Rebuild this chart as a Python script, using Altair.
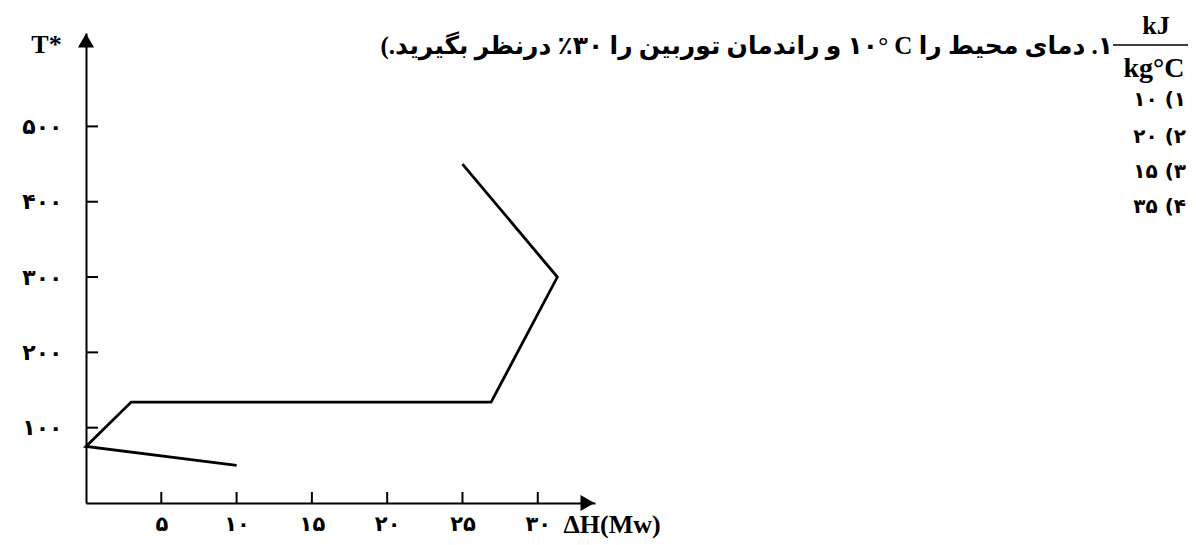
import altair as alt
import pandas as pd

# ---- data ----
dh_values = [10, 0, 3, 26.9, 31.3, 25]          # ΔH (MW)
t_values = [50, 75, 134, 134, 300, 450]          # T*
point_order = [0, 1, 2, 3, 4, 5]

x_tick_values = [5, 10, 15, 20, 25, 30]
y_tick_values = [100, 200, 300, 400, 500]
persian_digits = "۰۱۲۳۴۵۶۷۸۹"

x_title = "ΔH(Mw)"
y_title = "T*"
LRE, RLE, PDF = "\u202a", "\u202b", "\u202c"
question = "۱. دمای محیط را " + LRE + "۱۰° C" + PDF + " و راندمان توربین را ۳۰٪ درنظر بگیرید.)"
frac_num = "kJ"
frac_den = "kg°C"
options = ["۱)   ۱۰", "۲)   ۲۰", "۳)   ۱۵", "۴)   ۳۵"]

X_MAX = 33.8
Y_MAX = 624

FA_FONT = "DejaVu Sans"
SERIF = "Liberation Serif"
MIX = "Liberation Serif, DejaVu Sans"

# label expression turning latin digits into Persian digits
label_expr = "datum.label"
for i, d in enumerate(persian_digits):
    label_expr = f"replace({label_expr}, regexp('{i}', 'g'), '{d}')"

xs = alt.Scale(domain=[0, X_MAX], nice=False, zero=False)
ys = alt.Scale(domain=[0, Y_MAX], nice=False, zero=False)

W, H = 509, 470
OX, OY = 86, 33  # page position of plot origin


def px(x):
    return x - OX


def py(y):
    return y - OY


x_axis = alt.Axis(
    values=x_tick_values,
    ticks=False,
    tickSize=0,
    grid=False,
    domainColor="black",
    domainWidth=2,
    labelExpr=label_expr,
    labelFont=FA_FONT,
    labelFontSize=21,
    labelFontWeight="bold",
    labelColor="black",
    labelBaseline="middle",
    labelPadding=21,
    title=x_title,
    titleFont=SERIF,
    titleFontSize=26,
    titleFontWeight="bold",
    titleColor="black",
    titleAlign="left",
    titleBaseline="middle",
    titleX=px(563),
    titleY=21,
)
y_axis = alt.Axis(
    values=y_tick_values,
    ticks=False,
    tickSize=0,
    grid=False,
    domainColor="black",
    domainWidth=2,
    labelExpr=label_expr,
    labelFont=FA_FONT,
    labelFontSize=22,
    labelFontWeight="bold",
    labelColor="black",
    labelPadding=24,
    title=y_title,
    titleFont=SERIF,
    titleFontSize=26,
    titleFontWeight="bold",
    titleColor="black",
    titleAngle=0,
    titleAlign="center",
    titleBaseline="middle",
    titleX=px(46),
    titleY=py(44),
)


def X(field):
    return alt.X(field, type="quantitative", scale=xs, axis=x_axis)


def Y(field):
    return alt.Y(field, type="quantitative", scale=ys, axis=y_axis)


line_df = pd.DataFrame({"dh": dh_values, "t": t_values, "i": point_order})

line = alt.Chart(line_df).mark_line(color="black", strokeWidth=2.8, strokeJoin="miter").encode(
    x=X("dh"), y=Y("t"), order=alt.Order("i:O")
)

y_ticks = alt.Chart(pd.DataFrame({"t": y_tick_values})).mark_rule(color="black", strokeWidth=2).encode(
    y=Y("t"), x=alt.value(0), x2=alt.value(12)
)
x_ticks = alt.Chart(pd.DataFrame({"dh": x_tick_values})).mark_rule(color="black", strokeWidth=2).encode(
    x=X("dh"), y=alt.value(H), y2=alt.value(H - 11)
)

arrow_up = alt.Chart(pd.DataFrame({"dh": [0], "t": [614]})).mark_point(
    shape="triangle-up", filled=True, size=260, color="black", opacity=1
).encode(x=X("dh"), y=Y("t"))

arrow_right = alt.Chart(pd.DataFrame({"dh": [33.3], "t": [0]})).mark_point(
    shape="triangle-right", filled=True, size=260, color="black", opacity=1
).encode(x=X("dh"), y=Y("t"))

text_layers = []
text_layers.append(
    alt.Chart(pd.DataFrame({"s": [RLE + question + PDF]})).mark_text(
        font=MIX, fontSize=25, fontWeight="bold", align="right", baseline="middle", color="black"
    ).encode(text="s:N", x=alt.value(px(1113)), y=alt.value(py(46)))
)
text_layers.append(
    alt.Chart(pd.DataFrame({"s": [frac_num]})).mark_text(
        font=SERIF, fontSize=26, fontWeight="bold", align="center", baseline="middle", color="black"
    ).encode(text="s:N", x=alt.value(px(1156)), y=alt.value(py(26)))
)
text_layers.append(
    alt.Chart(pd.DataFrame({"s": [frac_den]})).mark_text(
        font=SERIF, fontSize=28, fontWeight="bold", align="center", baseline="middle", color="black"
    ).encode(text="s:N", x=alt.value(px(1154)), y=alt.value(py(69)))
)
text_layers.append(
    alt.Chart(pd.DataFrame({"s": [0]})).mark_rule(color="black", strokeWidth=1.5).encode(
        x=alt.value(px(1113)), x2=alt.value(px(1191)), y=alt.value(py(45))
    )
)
opt_y = [100, 137, 172, 207]
for s, yy in zip(options, opt_y):
    text_layers.append(
        alt.Chart(pd.DataFrame({"s": [RLE + s + PDF]})).mark_text(
            font=FA_FONT, fontSize=20, fontWeight="bold", align="right", baseline="middle", color="black"
        ).encode(text="s:N", x=alt.value(px(1186)), y=alt.value(py(yy)))
    )

chart = alt.layer(line, y_ticks, x_ticks, arrow_up, arrow_right, *text_layers).properties(
    width=W,
    height=H,
    background="white",
    autosize=alt.AutoSizeParams(type="none"),
    padding={"left": OX - 8, "top": OY - 8, "right": 1180 - (OX - 8) - W, "bottom": 41},
).configure_view(stroke="transparent")

chart.save("out.html", embed_options={"renderer": "svg", "actions": False})
